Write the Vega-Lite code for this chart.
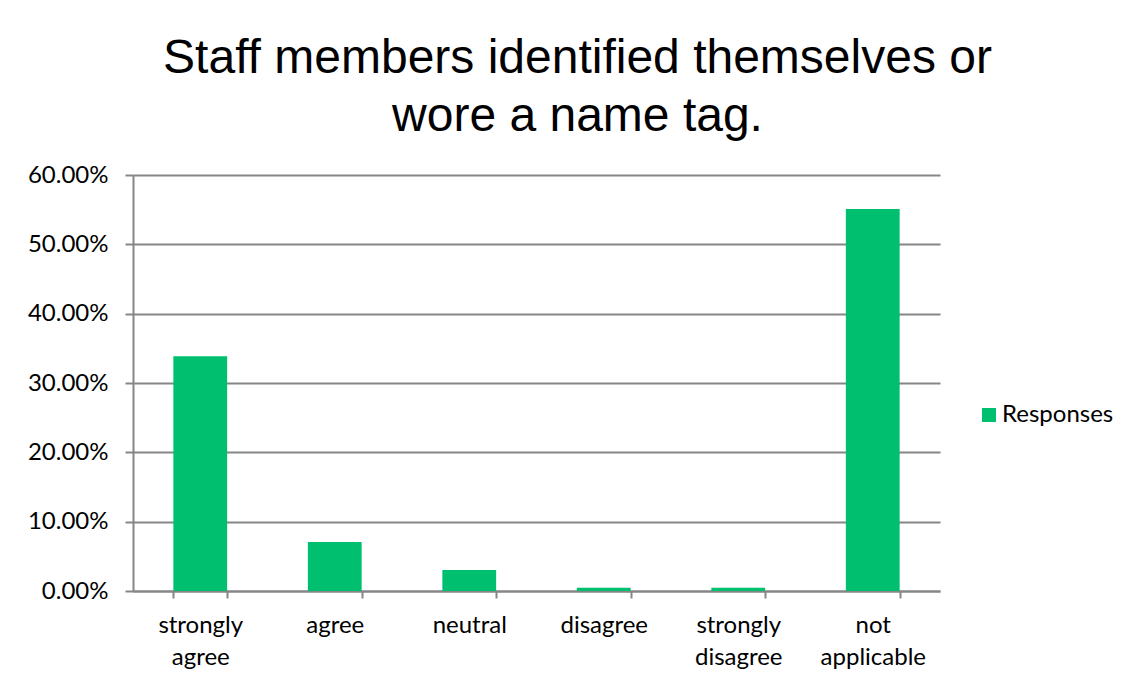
{
  "$schema": "https://vega.github.io/schema/vega-lite/v6.json",
  "autosize": {"type": "none"},
  "padding": {"left": 133, "top": 175, "right": 193, "bottom": 95},
  "width": 807,
  "height": 416,
  "background": "white",
  "title": {
    "text": ["Staff members identified themselves or", "wore a name tag."],
    "font": "Liberation Sans",
    "fontSize": 48,
    "fontWeight": "normal",
    "color": "black",
    "lineHeight": 58,
    "anchor": "middle",
    "frame": "group",
    "dx": 41,
    "offset": 22
  },
  "data": {
    "values": [
      {"category": "strongly agree", "series": "Responses", "value": 0.3386},
      {"category": "agree", "series": "Responses", "value": 0.0706},
      {"category": "neutral", "series": "Responses", "value": 0.0303},
      {"category": "disagree", "series": "Responses", "value": 0.0047},
      {"category": "strongly disagree", "series": "Responses", "value": 0.0047},
      {"category": "not applicable", "series": "Responses", "value": 0.551}
    ]
  },
  "mark": {"type": "bar"},
  "encoding": {
    "x": {
      "field": "category",
      "type": "nominal",
      "sort": null,
      "scale": {"paddingInner": 0.6, "paddingOuter": 0.3},
      "axis": {
        "title": null,
        "labelAngle": 0,
        "labelExpr": "split(datum.label, ' ')",
        "labelFont": "Lato",
        "labelFontSize": 24,
        "labelColor": "black",
        "labelLineHeight": 32,
        "labelPadding": 15,
        "tickBand": "extent",
        "tickSize": 7,
        "tickColor": "#868686",
        "tickWidth": 2,
        "domainColor": "#868686",
        "domainWidth": 2,
        "grid": false
      }
    },
    "y": {
      "field": "value",
      "type": "quantitative",
      "scale": {"domain": [0, 0.6]},
      "axis": {
        "title": null,
        "format": ".2%",
        "values": [0, 0.1, 0.2, 0.3, 0.4, 0.5, 0.6],
        "labelFont": "Lato",
        "labelFontSize": 24,
        "labelColor": "black",
        "labelPadding": 17,
        "tickSize": 8,
        "tickColor": "#868686",
        "tickWidth": 2,
        "domainColor": "#868686",
        "domainWidth": 2,
        "grid": true,
        "gridColor": "#868686",
        "gridWidth": 2
      }
    },
    "color": {
      "field": "series",
      "type": "nominal",
      "scale": {"range": ["#00bf6f"]},
      "legend": {
        "title": null,
        "orient": "none",
        "legendX": 844,
        "legendY": 228,
        "padding": 0,
        "symbolType": "square",
        "symbolSize": 196,
        "symbolStrokeWidth": 0,
        "symbolOpacity": 1,
        "labelFont": "Lato",
        "labelFontSize": 24,
        "labelColor": "black",
        "labelOffset": 1
      }
    }
  },
  "config": {"view": {"stroke": null}}
}
